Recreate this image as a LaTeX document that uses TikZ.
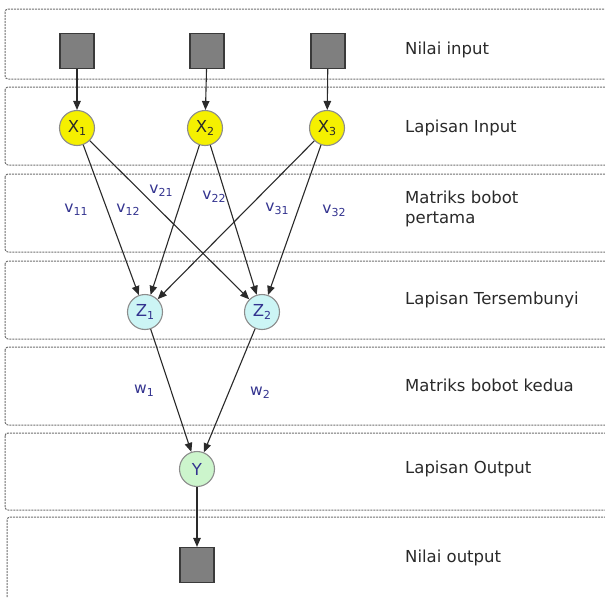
\documentclass[tikz,border=0pt]{standalone}
\usepackage{fontspec}
\setmainfont{DejaVu Sans}
\usetikzlibrary{arrows.meta}
\definecolor{lbl}{HTML}{33338F}
\definecolor{txt}{HTML}{2A2A2A}
\definecolor{band}{HTML}{707070}
\definecolor{sqfill}{HTML}{7F7F7F}
\definecolor{sqdraw}{HTML}{3A3A3A}
\definecolor{xfill}{HTML}{F5F000}
\definecolor{zfill}{HTML}{CCF5F5}
\definecolor{yfill}{HTML}{CCF5CC}
\definecolor{ringc}{HTML}{8C8C8C}
\newcommand\sbs[1]{\raisebox{-0.4ex}{\fontsize{11}{11}\selectfont #1}}
\tikzset{
  bandbox/.style={draw=band, dash pattern=on 2pt off 1pt, line width=1pt, rounded corners=3pt},
  sqbox/.style={draw=sqdraw, fill=sqfill, line width=1.2pt, minimum width=34, minimum height=35, inner sep=0},
  neuron/.style={circle, draw=ringc, line width=1.1pt, minimum size=35, inner sep=0, font=\fontsize{16.5}{16.5}\selectfont},
  xn/.style={neuron, fill=xfill, text=txt},
  zn/.style={neuron, fill=zfill, text=lbl},
  yn/.style={neuron, fill=yfill, text=lbl},
  side/.style={anchor=west, text=txt, font=\fontsize{16.5}{20}\selectfont, align=left, inner sep=0},
  wlbl/.style={text=lbl, font=\fontsize{15.5}{15.5}\selectfont, inner sep=0},
  conn/.style={draw=txt, line width=1.1pt, -{Triangle[length=9pt,width=7.5pt]}}
}
\begin{document}
\begin{tikzpicture}[x=1pt,y=-1pt]
\useasboundingbox (0,0) rectangle (605,597);
\clip (0,0) rectangle (605,597);
\fill[white] (0,0) rectangle (605,597);
% bands
\draw[bandbox] (5,9) rectangle (640,79);
\draw[bandbox] (5,87) rectangle (640,165);
\draw[bandbox] (5,174) rectangle (640,252);
\draw[bandbox] (5,261) rectangle (640,339);
\draw[bandbox] (5,347) rectangle (640,425);
\draw[bandbox] (5,433) rectangle (640,510);
\draw[bandbox] (7,517) rectangle (640,640);
% input squares
\node[sqbox] (i1) at (77,51) {};
\node[sqbox] (i2) at (207,51) {};
\node[sqbox] (i3) at (328,51) {};
% input layer
\node[xn] (x1) at (77,128) {X\sbs{1}};
\node[xn] (x2) at (205,128) {X\sbs{2}};
\node[xn] (x3) at (327,128) {X\sbs{3}};
% hidden
\node[zn] (z1) at (145,312) {Z\sbs{1}};
\node[zn] (z2) at (262,312) {Z\sbs{2}};
% output
\node[yn] (y) at (197,469) {Y};
\node[sqbox] (o) at (197,565) {};
% connectors
\draw[conn] (i1) -- (x1);
\draw[conn] (i2) -- (x2);
\draw[conn] (i3) -- (x3);
\draw[conn] (x1) -- (z1);
\draw[conn] (x1) -- (z2);
\draw[conn] (x2) -- (z1);
\draw[conn] (x2) -- (z2);
\draw[conn] (x3) -- (z1);
\draw[conn] (x3) -- (z2);
\draw[conn] (z1) -- (y);
\draw[conn] (z2) -- (y);
\draw[conn] (y) -- (o);
% weight labels
\node[wlbl] (v11) at (76,210) {v\sbs{11}};
\node[wlbl] (v12) at (128,210) {v\sbs{12}};
\node[wlbl] (v21) at (161,191) {v\sbs{21}};
\node[wlbl] (v22) at (214,197) {v\sbs{22}};
\node[wlbl] (v31) at (277,209) {v\sbs{31}};
\node[wlbl] (v32) at (334,211) {v\sbs{32}};
\node[wlbl] (w1) at (144,391) {w\sbs{1}};
\node[wlbl] (w2) at (260,393) {w\sbs{2}};
% side texts
\node[side] (t1) at (405,50) {Nilai input};
\node[side] (t2) at (405,128) {Lapisan Input};
\node[side] (t3) at (405,209) {Matriks bobot\\pertama};
\node[side] (t4) at (405,300) {Lapisan Tersembunyi};
\node[side] (t5) at (405,385) {Matriks bobot kedua};
\node[side] (t6) at (405,469) {Lapisan Output};
\node[side] (t7) at (405,558) {Nilai output};
\end{tikzpicture}
\end{document}
